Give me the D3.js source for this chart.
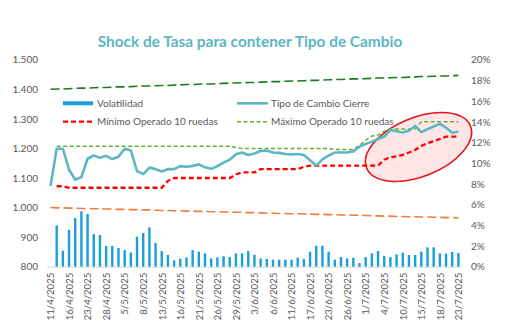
<!DOCTYPE html>
<html>
<head>
<meta charset="utf-8">
<script src="https://cdn.jsdelivr.net/npm/d3@7"></script>
<style>
  html, body { margin: 0; padding: 0; background: #fff; }
  svg { display: block; font-family: Lato, "Open Sans", sans-serif; }
</style>
</head>
<body>
<svg id="chart" width="510" height="325"></svg>
<script>
// Ruedas hábiles (11/4/2025 – 23/7/2025)
const dates = [
  "11/4/2025","14/4/2025","15/4/2025","16/4/2025","21/4/2025","22/4/2025","23/4/2025","24/4/2025","25/4/2025","28/4/2025","29/4/2025","30/4/2025",
  "5/5/2025","6/5/2025","7/5/2025","8/5/2025","9/5/2025","12/5/2025","13/5/2025","14/5/2025","15/5/2025","16/5/2025","19/5/2025","20/5/2025","21/5/2025","22/5/2025","23/5/2025","26/5/2025","27/5/2025","28/5/2025","29/5/2025","30/5/2025",
  "2/6/2025","3/6/2025","4/6/2025","5/6/2025","6/6/2025","9/6/2025","10/6/2025","11/6/2025","12/6/2025","13/6/2025","17/6/2025","18/6/2025","19/6/2025","23/6/2025","24/6/2025","25/6/2025","26/6/2025","27/6/2025","30/6/2025",
  "1/7/2025","2/7/2025","3/7/2025","4/7/2025","7/7/2025","8/7/2025","10/7/2025","11/7/2025","14/7/2025","15/7/2025","16/7/2025","17/7/2025","18/7/2025","21/7/2025","22/7/2025","23/7/2025"
];

// Volatilidad (% , eje derecho)
const volatilidad = [null,
  3.99,1.55,3.57,4.70,5.35,5.09,3.16,3.06,2.00,2.00,
  1.80,1.61,1.38,2.90,3.25,3.80,2.29,1.51,1.13,0.61,
  0.77,0.90,1.61,1.45,1.29,0.80,0.90,1.00,0.93,1.29,
  1.29,1.51,1.16,0.80,0.74,0.68,0.68,0.68,0.68,0.87,
  0.74,1.45,2.03,2.03,1.45,0.68,0.93,0.80,0.87,0.35,
  0.93,1.29,1.51,1.03,0.93,1.19,1.35,1.13,1.13,1.45,
  1.87,1.87,1.29,1.26,1.42,1.32];

// Tipo de cambio de cierre ($/USD, eje izquierdo)
const cierre = [1073,1199,1199,1128,1094,1103,1165,1176,1168,1175,
  1164,1172,1199,1193,1123,1113,1135,1130,1122,1130,
  1130,1140,1138,1141,1146,1136,1131,1140,1152,1162,
  1180,1186,1178,1183,1191,1193,1186,1185,1181,1180,
  1181,1178,1160,1142,1163,1176,1186,1186,1186,1190,
  1206,1215,1223,1232,1240,1262,1258,1254,1260,1276,
  1255,1265,1274,1283,1270,1253,1257];

// Mínimo operado en las últimas 10 ruedas
const minimo10 = [null,1072,1072,
  1067,1067,1067,1067,1067,1067,1067,1067,1067,1067,1067,1067,1067,1067,1067,1067,
  1090,
  1100,1100,1100,1100,1100,1100,1100,1100,1100,1100,
  1112,1119,1119,1119,
  1130,1130,1130,1130,1130,1130,1130,
  1138,
  1142,1142,1142,1142,1142,1142,1142,1142,1142,1142,1142,1142,
  1162,1170,1173,1178,1186,1195,1208,1218,1224,1232,1240,1240,1240];

// Máximo operado en las últimas 10 ruedas
const maximo10 = [null,
  1207,1207,1207,1207,1207,1207,1207,1207,1207,1207,
  1207,1207,1207,1207,1207,1207,1207,1207,1207,1207,
  1207,1207,1207,1207,1207,1207,1207,1207,1207,
  1203,
  1200,1200,1200,1200,1200,1200,1200,1200,1200,1200,1200,1200,1200,1200,1200,
  1196,1196,1196,1196,
  1210,1228,1242,1245,1258,
  1266,1266,1266,1266,1266,
  1290,1290,1290,1290,1290,1290,1290];

// Banda cambiaria: techo y piso
const bandaSuperior = [1400,1401,1401,1402,1403,1404,1404,1405,1406,1406,
  1407,1408,1408,1409,1410,1411,1411,1412,1413,1413,
  1414,1415,1416,1416,1417,1418,1418,1419,1420,1421,
  1421,1422,1423,1423,1424,1425,1426,1426,1427,1428,
  1428,1429,1430,1430,1431,1432,1433,1433,1434,1435,
  1435,1436,1437,1438,1438,1439,1440,1440,1441,1442,
  1443,1443,1444,1445,1445,1446,1447];
const bandaInferior = [1000,999,999,998,998,997,997,996,996,995,
  995,994,994,993,993,992,992,991,990,990,
  989,989,988,988,987,987,986,986,985,985,
  984,984,983,983,982,981,981,980,980,979,
  979,978,978,977,977,976,976,975,975,974,
  974,973,972,972,971,971,970,970,969,969,
  968,968,967,967,966,966,965];

const leftTicks = [800, 900, 1000, 1100, 1200, 1300, 1400, 1500];
const rightTicks = [0, 2, 4, 6, 8, 10, 12, 14, 16, 18, 20];

const svg = d3.select("#chart");
const plotTop = 59.7, plotBottom = 266.7;

const idx = d3.range(dates.length);
const x = d3.scalePoint().domain(idx).range([50.5, 458.4]);
const yL = d3.scaleLinear().domain([800, 1500]).range([plotBottom, plotTop]);
const yR = d3.scaleLinear().domain([0, 20]).range([plotBottom, plotTop]);

const locale = d3.formatLocale({ decimal: ",", thousands: ".", grouping: [3], currency: ["$", ""] });
const fmtL = locale.format(",d");

const textColor = "#595959";

// Título
svg.append("text")
  .attr("x", 250).attr("y", 46.8)
  .attr("text-anchor", "middle")
  .attr("font-size", 15.4).attr("font-weight", "bold")
  .attr("fill", "#5DB6C3")
  .text("Shock de Tasa para contener Tipo de Cambio");

// Eje izquierdo
const axL = svg.append("g").attr("transform", "translate(38,0)")
  .call(d3.axisLeft(yL).tickValues(leftTicks).tickFormat(fmtL).tickSize(0).tickPadding(0));
axL.select(".domain").remove();
axL.selectAll("text").attr("font-size", 10).attr("fill", textColor).attr("font-family", "Lato, sans-serif");

// Eje derecho
const axR = svg.append("g").attr("transform", "translate(471,0)")
  .call(d3.axisRight(yR).tickValues(rightTicks).tickFormat(d => d + "%").tickSize(0).tickPadding(0));
axR.select(".domain").remove();
axR.selectAll("text").attr("font-size", 10).attr("fill", textColor).attr("font-family", "Lato, sans-serif");

// Eje de fechas
const axX = svg.append("g").attr("transform", `translate(0,${plotBottom})`)
  .call(d3.axisBottom(x).tickValues(idx.filter(i => i % 3 === 0)).tickFormat(i => dates[i]).tickSize(0).tickPadding(0));
axX.select(".domain").remove();
axX.selectAll("text")
  .attr("font-size", 9.6).attr("fill", textColor).attr("font-family", "Lato, sans-serif")
  .attr("text-anchor", "end")
  .attr("dy", null)
  .attr("transform", "translate(3.3,6) rotate(-90)");

svg.append("line")
  .attr("x1", 47).attr("x2", 462).attr("y1", plotBottom + 0.5).attr("y2", plotBottom + 0.5)
  .attr("stroke", "#D9D9D9").attr("stroke-width", 1);

// Barras de volatilidad
const barW = 2.4;
svg.append("g").selectAll("rect")
  .data(idx.filter(i => volatilidad[i] != null))
  .join("rect")
  .attr("x", i => x(i) - barW / 2)
  .attr("width", barW)
  .attr("y", i => yR(volatilidad[i]))
  .attr("height", i => plotBottom - yR(volatilidad[i]))
  .attr("fill", "#1A9FDA");

// Elipse destacando el último tramo
svg.append("ellipse")
  .attr("cx", 0).attr("cy", 0).attr("rx", 56).attr("ry", 29.5)
  .attr("transform", "translate(418.5,147) rotate(-22)")
  .attr("fill", "rgba(255,60,60,0.13)")
  .attr("stroke", "#E8141B").attr("stroke-width", 1.6);

const lineL = series => d3.line()
  .defined(i => series[i] != null)
  .x(i => x(i)).y(i => yL(series[i]));

// Banda
svg.append("path").datum(idx).attr("d", lineL(bandaSuperior))
  .attr("fill", "none").attr("stroke", "#1F7A1F").attr("stroke-width", 1.6)
  .attr("stroke-dasharray", "9,4");
svg.append("path").datum(idx).attr("d", lineL(bandaInferior))
  .attr("fill", "none").attr("stroke", "#F07D3C").attr("stroke-width", 1.6)
  .attr("stroke-dasharray", "9,4");

// Máximo y mínimo 10 ruedas
svg.append("path").datum(idx).attr("d", lineL(maximo10))
  .attr("fill", "none").attr("stroke", "#66B032").attr("stroke-width", 1.5)
  .attr("stroke-dasharray", "4,2.5");
svg.append("path").datum(idx).attr("d", lineL(minimo10))
  .attr("fill", "none").attr("stroke", "#FF0000").attr("stroke-width", 2.3)
  .attr("stroke-dasharray", "5,3");

// Tipo de cambio cierre
svg.append("path").datum(idx).attr("d", lineL(cierre))
  .attr("fill", "none").attr("stroke", "#5DB6C3").attr("stroke-width", 2.6)
  .attr("stroke-linejoin", "round");

// Leyenda
const leg = svg.append("g").attr("font-size", 10).attr("fill", textColor);
const legendItems = [
  { label: "Volatilidad", x: 63, y: 103.3, type: "bar" },
  { label: "Tipo de Cambio Cierre", x: 237, y: 103.3, type: "teal" },
  { label: "Mínimo Operado 10 ruedas", x: 63, y: 121.7, type: "min" },
  { label: "Máximo Operado 10 ruedas", x: 237, y: 121.7, type: "max" }
];
legendItems.forEach(d => {
  if (d.type === "bar") {
    leg.append("rect").attr("x", d.x).attr("y", d.y - 2).attr("width", 30).attr("height", 4).attr("fill", "#1A9FDA");
  } else {
    const st = {
      teal: { c: "#5DB6C3", w: 2.6, da: null },
      min: { c: "#FF0000", w: 2.3, da: "5,3" },
      max: { c: "#66B032", w: 1.5, da: "4,2.5" }
    }[d.type];
    leg.append("line").attr("x1", d.x).attr("x2", d.x + 31).attr("y1", d.y).attr("y2", d.y)
      .attr("stroke", st.c).attr("stroke-width", st.w).attr("stroke-dasharray", st.da);
  }
  leg.append("text").attr("x", d.x + 34).attr("y", d.y + 3.5).text(d.label);
});
</script>
</body>
</html>
